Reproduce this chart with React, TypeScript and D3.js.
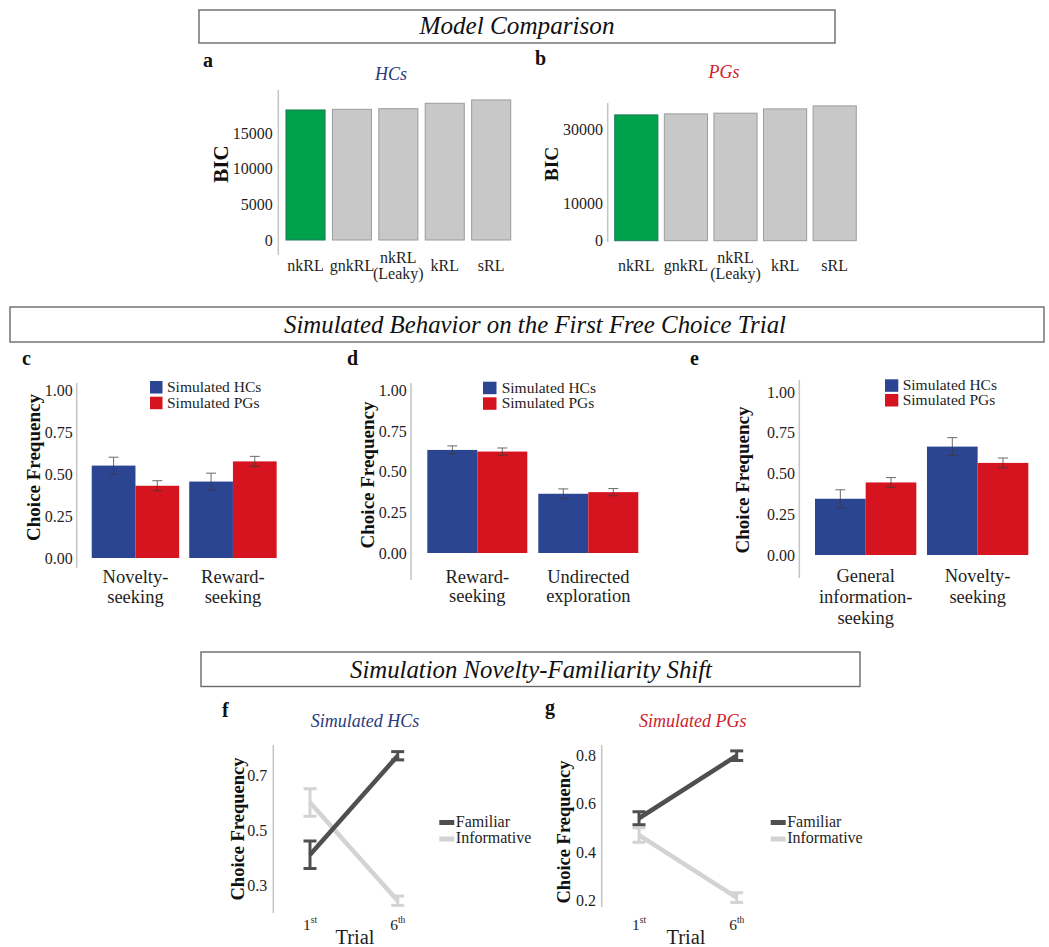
import React, { useEffect, useRef } from 'react';
import * as d3 from 'd3';

const SERIF = "'Liberation Serif', 'Times New Roman', Times, serif";
const HC_BLUE = '#2c4592';
const PG_RED = '#d6141f';
const GREEN = '#00a14b';
const BAR_GREY = '#c8c8c8';
const DARK_LINE = '#4f4f4f';
const LIGHT_LINE = '#d3d3d3';
const AXIS_GREY = '#c4c4c4';
const TEXT = '#1e1e1e';

// --- Model comparison (BIC) ---
const models = ['nkRL', 'gnkRL', 'nkRL\n(Leaky)', 'kRL', 'sRL'];
const bicHCs = [18280, 18370, 18460, 19220, 19690];
const bicPGs = [33880, 34150, 34340, 35500, 36300];
const bicTicksHCs = [0, 5000, 10000, 15000];
const bicTicksPGs = [0, 10000, 30000];

// --- Simulated behaviour on the first free choice trial ---
const simGroups = ['Simulated HCs', 'Simulated PGs'];
const freqTicks = [0, 0.25, 0.5, 0.75, 1];

const catsC = ['Novelty-\nseeking', 'Reward-\nseeking'];
const hcC = [0.55, 0.455];
const hcErrC = [0.05, 0.05];
const pgC = [0.43, 0.575];
const pgErrC = [0.03, 0.03];

const catsD = ['Reward-\nseeking', 'Undirected\nexploration'];
const hcD = [0.635, 0.365];
const hcErrD = [0.025, 0.03];
const pgD = [0.625, 0.375];
const pgErrD = [0.022, 0.022];

const catsE = ['General\ninformation-\nseeking', 'Novelty-\nseeking'];
const hcE = [0.345, 0.665];
const hcErrE = [0.055, 0.055];
const pgE = [0.445, 0.565];
const pgErrE = [0.03, 0.03];

// --- Novelty-familiarity shift ---
const trials = ['1st', '6th'];
const shiftSeries = ['Familiar', 'Informative'];
const famF = [0.41, 0.77];
const famErrF = [0.05, 0.015];
const infF = [0.6, 0.243];
const infErrF = [0.05, 0.017];
const ticksF = [0.3, 0.5, 0.7];

const famG = [0.54, 0.8];
const famErrG = [0.027, 0.02];
const infG = [0.47, 0.21];
const infErrG = [0.03, 0.02];
const ticksG = [0.2, 0.4, 0.6, 0.8];

type Sel = d3.Selection<SVGGElement, unknown, null, undefined>;

const multiline = (g: Sel, text: string, x: number, y: number, step: number, size: number) => {
  const t = g.append('text')
    .attr('text-anchor', 'middle')
    .style('font-size', `${size}px`)
    .attr('fill', TEXT);
  text.split('\n').forEach((line, i) => {
    t.append('tspan').attr('x', x).attr('y', y + i * step).text(line);
  });
};

const titleBox = (g: Sel, b: any) => {
  g.append('rect')
    .attr('x', b.x).attr('y', b.y)
    .attr('width', b.w).attr('height', b.h)
    .attr('fill', 'white')
    .attr('stroke', '#6a6a6a')
    .attr('stroke-width', 1.4);
  g.append('text')
    .attr('x', b.cx).attr('y', b.baseline)
    .attr('text-anchor', 'middle')
    .style('font-size', '25px')
    .style('font-style', 'italic')
    .attr('textLength', b.len)
    .attr('lengthAdjust', 'spacingAndGlyphs')
    .attr('fill', '#111')
    .text(b.text);
};

const panelLabel = (g: Sel, text: string, x: number, y: number) => {
  g.append('text')
    .attr('x', x).attr('y', y)
    .style('font-size', '20px')
    .style('font-weight', 'bold')
    .attr('fill', '#111')
    .text(text);
};

const leftAxis = (g: Sel, y: d3.ScaleLinear<number, number>, ticks: number[], x: number,
  pad: number, fmt: (d: number) => string, top: number, bottom: number) => {
  g.append('line')
    .attr('x1', x).attr('x2', x)
    .attr('y1', top).attr('y2', bottom)
    .attr('stroke', AXIS_GREY)
    .attr('stroke-width', 1.5);
  const ax = g.append('g')
    .attr('transform', `translate(${x},0)`)
    .call(d3.axisLeft(y).tickValues(ticks).tickSize(0).tickPadding(pad)
      .tickFormat(d => fmt(d as number)));
  ax.select('.domain').remove();
  ax.attr('font-family', null).attr('font-size', null);
  ax.selectAll('text')
    .attr('fill', TEXT)
    .style('font-family', SERIF)
    .style('font-size', '16px');
};

const yTitle = (g: Sel, text: string, x: number, y: number, size: number) => {
  g.append('text')
    .attr('transform', `translate(${x},${y}) rotate(-90)`)
    .attr('text-anchor', 'middle')
    .style('font-size', `${size}px`)
    .style('font-weight', 'bold')
    .attr('fill', '#111')
    .text(text);
};

const bicPanel = (g: Sel, p: any) => {
  panelLabel(g, p.label, p.labelX, p.labelY);
  g.append('text')
    .attr('x', p.titleX).attr('y', p.titleY)
    .attr('text-anchor', 'middle')
    .style('font-size', '18px')
    .style('font-style', 'italic')
    .attr('fill', p.titleColor)
    .text(p.title);

  const x = d3.scaleBand<string>().domain(models).range(p.xRange)
    .paddingInner(p.pi).paddingOuter(0.075);
  const y = d3.scaleLinear().domain([0, p.refValue]).range([p.y0, p.yRef]);

  leftAxis(g, y, p.ticks, p.axisX, p.pad, d => String(d), p.axisTop, p.axisBottom);
  yTitle(g, 'BIC', p.bicX, p.bicY, p.bicSize);

  g.selectAll(null)
    .data(p.values as number[])
    .enter()
    .append('rect')
    .attr('x', (_, i) => x(models[i])!)
    .attr('y', d => y(d))
    .attr('width', x.bandwidth())
    .attr('height', d => y(0) - y(d))
    .attr('fill', (_, i) => (i === 0 ? GREEN : BAR_GREY))
    .attr('stroke', (_, i) => (i === 0 ? '#1d7a5a' : '#9c9c9c'))
    .attr('stroke-width', 1);

  models.forEach(m => {
    const cx = x(m)! + x.bandwidth() / 2;
    const lines = m.split('\n').length;
    const y0 = lines === 1 ? 271 : 263;
    multiline(g, m, cx, y0, 16, 16);
  });
};

const groupedPanel = (g: Sel, p: any) => {
  panelLabel(g, p.label, p.labelX, p.labelY);

  const x0 = d3.scaleBand<string>().domain(p.cats).range(p.xRange)
    .paddingInner(p.pi).paddingOuter(0.1);
  const x1 = d3.scaleBand<string>().domain(simGroups).range([0, x0.bandwidth()]).padding(0);
  const y = d3.scaleLinear().domain([0, 1]).range([p.y0, p.y1]);
  const color = d3.scaleOrdinal<string, string>().domain(simGroups).range([HC_BLUE, PG_RED]);

  leftAxis(g, y, freqTicks, p.axisX, p.pad, d3.format('.2f'), p.axisTop, p.axisBottom);
  yTitle(g, 'Choice Frequency', p.ylabX, p.ylabY, 19);

  const rows = (p.cats as string[]).flatMap((c, i) => [
    { cat: c, grp: simGroups[0], v: p.hc[i], e: p.hcErr[i] },
    { cat: c, grp: simGroups[1], v: p.pg[i], e: p.pgErr[i] },
  ]);

  g.selectAll(null)
    .data(rows)
    .enter()
    .append('rect')
    .attr('x', d => x0(d.cat)! + x1(d.grp)!)
    .attr('y', d => y(d.v))
    .attr('width', x1.bandwidth())
    .attr('height', d => y(0) - y(d.v))
    .attr('fill', d => color(d.grp));

  const cap = 5;
  rows.forEach(d => {
    const cx = x0(d.cat)! + x1(d.grp)! + x1.bandwidth() / 2;
    const eb = g.append('g').attr('stroke', '#3a3a3a').attr('stroke-width', 1).attr('opacity', 0.75);
    eb.append('line').attr('x1', cx).attr('x2', cx).attr('y1', y(d.v + d.e)).attr('y2', y(d.v - d.e));
    eb.append('line').attr('x1', cx - cap).attr('x2', cx + cap).attr('y1', y(d.v + d.e)).attr('y2', y(d.v + d.e));
    eb.append('line').attr('x1', cx - cap).attr('x2', cx + cap).attr('y1', y(d.v - d.e)).attr('y2', y(d.v - d.e));
  });

  (p.cats as string[]).forEach(c => {
    multiline(g, c, x0(c)! + x0.bandwidth() / 2, p.labelBase, p.labelStep, 18.5);
  });

  simGroups.forEach((s, i) => {
    g.append('rect')
      .attr('x', p.legX).attr('y', p.legY[i])
      .attr('width', p.legW).attr('height', 12.5)
      .attr('fill', color(s));
    g.append('text')
      .attr('x', p.legTextX).attr('y', p.legY[i] + 11)
      .style('font-size', '15.5px')
      .attr('fill', TEXT)
      .text(s);
  });
};

const shiftPanel = (g: Sel, p: any) => {
  panelLabel(g, p.label, p.labelX, p.labelY);
  g.append('text')
    .attr('x', p.titleX).attr('y', 727)
    .attr('text-anchor', 'middle')
    .style('font-size', '18px')
    .style('font-style', 'italic')
    .attr('fill', p.titleColor)
    .text(p.title);

  const x = d3.scalePoint<string>().domain(trials).range(p.xRange);
  const y = d3.scaleLinear().domain(p.yDomain).range(p.yRange);

  leftAxis(g, y, p.ticks, p.axisX, p.pad, d3.format('.1f'), 745, p.axisBottom);
  yTitle(g, 'Choice Frequency', p.ylabX, p.ylabY, 18.5);

  const series = [
    { name: shiftSeries[1], color: LIGHT_LINE, vals: p.inf, errs: p.infErr },
    { name: shiftSeries[0], color: DARK_LINE, vals: p.fam, errs: p.famErr },
  ];
  const line = d3.line<number>()
    .x((_, i) => x(trials[i])!)
    .y(d => y(d));

  series.forEach(s => {
    g.append('path')
      .datum(s.vals as number[])
      .attr('d', line)
      .attr('fill', 'none')
      .attr('stroke', s.color)
      .attr('stroke-width', 4.5);
    (s.vals as number[]).forEach((v, i) => {
      const cx = x(trials[i])!;
      const e = s.errs[i];
      const eb = g.append('g').attr('stroke', s.color).attr('stroke-width', 3);
      eb.append('line').attr('x1', cx).attr('x2', cx).attr('y1', y(v + e)).attr('y2', y(v - e));
      eb.append('line').attr('x1', cx - 6.5).attr('x2', cx + 6.5).attr('y1', y(v + e)).attr('y2', y(v + e));
      eb.append('line').attr('x1', cx - 6.5).attr('x2', cx + 6.5).attr('y1', y(v - e)).attr('y2', y(v - e));
    });
  });

  trials.forEach(t => {
    const [, num, suf] = t.match(/^(\d+)(\D+)$/)!;
    const tx = g.append('text')
      .attr('x', x(t)!).attr('y', 930)
      .attr('text-anchor', 'middle')
      .style('font-size', '15.5px')
      .attr('fill', TEXT);
    tx.append('tspan').text(num);
    tx.append('tspan').style('font-size', '9.5px').attr('dy', -7).text(suf);
  });
  g.append('text')
    .attr('x', p.trialX).attr('y', 944)
    .attr('text-anchor', 'middle')
    .style('font-size', '20.5px')
    .attr('fill', TEXT)
    .text('Trial');

  [DARK_LINE, LIGHT_LINE].forEach((c, i) => {
    g.append('rect')
      .attr('x', p.legX).attr('y', [820, 836.5][i])
      .attr('width', 15).attr('height', 5)
      .attr('fill', c);
    g.append('text')
      .attr('x', p.legX + 16.5).attr('y', [826.5, 843][i])
      .style('font-size', '16px')
      .attr('fill', TEXT)
      .text(shiftSeries[i]);
  });
};

export default function App() {
  const svgRef = useRef<SVGSVGElement>(null);

  useEffect(() => {
    if (!svgRef.current) return;
    d3.select(svgRef.current).selectAll('*').remove();
    const root = d3.select(svgRef.current)
      .append('g')
      .style('font-family', SERIF) as unknown as Sel;

    titleBox(root, { x: 199, y: 10, w: 636, h: 33, cx: 517, baseline: 34, len: 195, text: 'Model Comparison' });
    titleBox(root, { x: 10, y: 307, w: 1034, h: 35, cx: 535, baseline: 333, len: 502, text: 'Simulated Behavior on the First Free Choice Trial' });
    titleBox(root, { x: 201, y: 652, w: 659, h: 34.5, cx: 531, baseline: 678, len: 362, text: 'Simulation Novelty-Familiarity Shift' });

    bicPanel(root, {
      label: 'a', labelX: 203, labelY: 67,
      title: 'HCs', titleColor: '#2a3a7c', titleX: 391, titleY: 80,
      values: bicHCs, ticks: bicTicksHCs,
      xRange: [282.5, 514.2], pi: 0.158,
      refValue: 15000, y0: 240, yRef: 133.3,
      axisX: 278.3, axisTop: 90, axisBottom: 255, pad: 5.6,
      bicX: 228, bicY: 164, bicSize: 21,
    });
    bicPanel(root, {
      label: 'b', labelX: 535, labelY: 65,
      title: 'PGs', titleColor: '#d0202a', titleX: 724, titleY: 78,
      values: bicPGs, ticks: bicTicksPGs,
      xRange: [611, 860], pi: 0.13,
      refValue: 30000, y0: 240.7, yRef: 129.3,
      axisX: 607.7, axisTop: 103, axisBottom: 242, pad: 4.7,
      bicX: 558, bicY: 164, bicSize: 19.5,
    });

    groupedPanel(root, {
      label: 'c', labelX: 22, labelY: 365,
      cats: catsC, hc: hcC, hcErr: hcErrC, pg: pgC, pgErr: pgErrC,
      xRange: [82, 286.4], pi: 0.103, y0: 558, y1: 390,
      axisX: 76.7, axisTop: 383, axisBottom: 568, pad: 4,
      ylabX: 40, ylabY: 467.5,
      legX: 150, legW: 12.5, legY: [381, 396.7], legTextX: 167,
      labelBase: 583, labelStep: 19.5,
    });
    groupedPanel(root, {
      label: 'd', labelX: 347, labelY: 365,
      cats: catsD, hc: hcD, hcErr: hcErrD, pg: pgD, pgErr: pgErrD,
      xRange: [416.2, 649.4], pi: 0.099, y0: 553, y1: 390.7,
      axisX: 411, axisTop: 383, axisBottom: 580, pad: 4.3,
      ylabX: 373.5, ylabY: 475,
      legX: 483, legW: 13.5, legY: [381.7, 397.3], legTextX: 501.7,
      labelBase: 582.5, labelStep: 19.5,
    });
    groupedPanel(root, {
      label: 'e', labelX: 690, labelY: 365,
      cats: catsE, hc: hcE, hcErr: hcErrE, pg: pgE, pgErr: pgErrE,
      xRange: [803.8, 1039.5], pi: 0.095, y0: 555, y1: 392,
      axisX: 799.3, axisTop: 380, axisBottom: 578, pad: 4.3,
      ylabX: 748.5, ylabY: 480,
      legX: 885, legW: 13.3, legY: [379.3, 394], legTextX: 902.7,
      labelBase: 582, labelStep: 21,
    });

    shiftPanel(root, {
      label: 'f', labelX: 222, labelY: 717,
      title: 'Simulated HCs', titleColor: '#2a3a7c', titleX: 365,
      fam: famF, famErr: famErrF, inf: infF, infErr: infErrF, ticks: ticksF,
      xRange: [310, 397.7], yDomain: [0.3, 0.7], yRange: [885, 775],
      axisX: 273.3, axisBottom: 913, pad: 6,
      ylabX: 243.5, ylabY: 829, trialX: 355, legX: 439.3,
    });
    shiftPanel(root, {
      label: 'g', labelX: 545, labelY: 714,
      title: 'Simulated PGs', titleColor: '#d0202a', titleX: 692.7,
      fam: famG, famErr: famErrG, inf: infG, infErr: infErrG, ticks: ticksG,
      xRange: [639, 736.7], yDomain: [0.2, 0.8], yRange: [900, 755.7],
      axisX: 601.7, axisBottom: 907, pad: 5.7,
      ylabX: 570, ylabY: 832, trialX: 686, legX: 770.7,
    });
  }, []);

  return (
    <svg
      ref={svgRef}
      width={1049}
      height={947}
      style={{ position: 'absolute', left: 0, top: 0, background: 'white', display: 'block' }}
    />
  );
}
